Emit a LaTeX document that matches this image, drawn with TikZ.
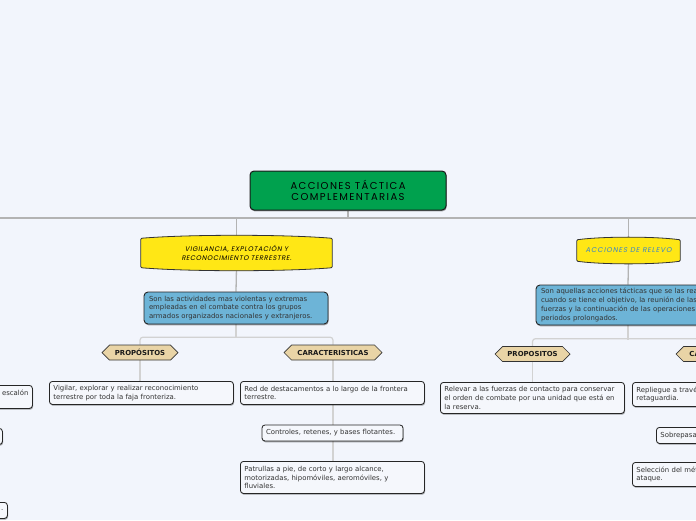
\documentclass[tikz,border=0pt]{standalone}
\usepackage{fontspec}
\setmainfont{DejaVu Sans}
\newfontfamily\gothic{Poppins}[LetterSpace=14]
\newfontfamily\gothicit{Poppins}[FakeSlant=0.2,LetterSpace=9]
\newfontfamily\gothicitw{Poppins}[FakeSlant=0.2,LetterSpace=13]
\usetikzlibrary{shapes.symbols,shadows,calc}
\pgfdeclarelayer{background}
\pgfsetlayers{background,main}
\definecolor{bgc}{HTML}{F2F5FC}
\definecolor{greenc}{HTML}{00A14E}
\definecolor{yelc}{HTML}{FFE715}
\definecolor{bluec}{HTML}{6DB4D7}
\definecolor{tanc}{HTML}{E9D4A6}
\definecolor{leafc}{HTML}{F5F7FC}
\definecolor{textc}{HTML}{333333}
\definecolor{linec}{HTML}{B3B3B3}
\definecolor{subc}{HTML}{D2D2D2}
\definecolor{relc}{HTML}{3A86C8}
\newcommand\ybpath[2]{(#1.south west) -- (#1.north west)
  .. controls ($(#1.north west)!0.25!(#1.north east)+(0,-#2)$) and ($(#1.north west)!0.75!(#1.north east)+(0,-#2)$) .. (#1.north east)
  -- (#1.south east)
  .. controls ($(#1.south west)!0.75!(#1.south east)+(0,#2)$) and ($(#1.south west)!0.25!(#1.south east)+(0,#2)$) .. (#1.south west) -- cycle}
\newcommand\ybulge[2]{%
  \fill[black!60,opacity=.45,xshift=0.6pt,yshift=-1.3pt] \ybpath{#1}{#2};
  \draw[fill=yelc,draw=black!80,line width=0.8pt,rounded corners=1pt] \ybpath{#1}{#2};}
\begin{document}
\begin{tikzpicture}[x=1pt,y=-1pt,
  mainline/.style={draw=linec,line width=1.3pt},
  subline/.style={draw=subc,line width=1.2pt},
  shad/.style={drop shadow={shadow xshift=0.6pt,shadow yshift=-1.3pt,fill=black,opacity=0.35}},
  rootbox/.style={draw=black!90,fill=greenc,rounded corners=4pt,line width=1pt,
    font=\gothic\fontsize{10}{11.7}\selectfont,align=center,shad},
  yeltext/.style={font=\gothicit\fontsize{6.7}{8.5}\selectfont,align=center,inner sep=0pt},
  bluebox/.style={draw=black!85,fill=bluec,rounded corners=4pt,line width=0.9pt,text=textc,
    font=\fontsize{6.9}{8.7}\selectfont,align=left,inner xsep=5pt,inner ysep=0pt,shad},
  hex/.style={shape=signal,signal to=west and east,signal pointer angle=90,draw=black!80,
    fill=tanc,line width=0.7pt,font=\bfseries\fontsize{6.9}{8}\selectfont,text=black!90,
    minimum height=15pt,inner ysep=1pt,inner xsep=1pt},
  leaf/.style={draw=black!85,fill=leafc,rounded corners=3pt,line width=0.85pt,text=textc,
    font=\fontsize{6.9}{8.7}\selectfont,align=left,inner xsep=4pt,inner ysep=0pt,
    anchor=north west,text width=176pt,shad},
  shortleaf/.style={leaf,text width=133pt}]
\useasboundingbox (0,0) rectangle (696,520);

% root and first level
\node[rootbox,minimum width=196pt,minimum height=39pt] (root) at (348,190.5) {ACCIONES TÁCTICA\\COMPLEMENTARIAS};
\node[yeltext,minimum width=191pt,minimum height=29pt] (vigh) at (236.5,253) {VIGILANCIA, EXPLOTACIÓN Y\\RECONOCIMIENTO TERRESTRE.};
\node[yeltext,font=\gothicitw\fontsize{7}{8.5}\selectfont,text=relc,minimum width=103pt,minimum height=21pt] (rel) at (628.5,250.5) {ACCIONES DE RELEVO};
\coordinate (hubL) at (-60,218);
\coordinate (hubR) at (760,218);

% left branch
\node[bluebox,text width=174pt,minimum height=32pt] (blue1) at (236,308)
  {Son las actividades mas violentas y extremas\\empleadas en el combate contra los grupos\\armados organizados nacionales y extranjeros.};
\node[hex,minimum width=76pt] (prop1) at (140,352.5) {PROPÓSITOS};
\node[hex,minimum width=98pt] (car1) at (333,352.5) {CARACTERISTICAS};
\node[leaf,minimum height=23pt] (vig1) at (49,381) {Vigilar, explorar y realizar reconocimiento\\terrestre por toda la faja fronteriza.};
\node[leaf,minimum height=23pt] (red) at (240,381) {Red de destacamentos a lo largo de la frontera\\terrestre.};
\node[shortleaf,anchor=center,minimum height=16pt] (ctrl) at (332.5,433) {Controles, retenes, y bases flotantes.};
\node[leaf,minimum height=32pt] (pat) at (240,461) {Patrullas a pie, de corto y largo alcance,\\motorizadas, hipomóviles, aeromóviles, y\\fluviales.};

% far-left cut boxes
\node[leaf,align=right,minimum height=23pt] (l1) at (-152,385) {escalón\\\mbox{}};
\node[shortleaf,minimum height=16pt] (l2) at (-139,428) {\mbox{}};
\node[leaf,align=right,minimum height=16pt] (l3) at (-177,502) {.};

% right branch
\node[bluebox,text width=174pt,minimum height=40pt] (blue2) at (628,305)
  {\mbox{Son aquellas acciones tácticas que se las realizan}\\\mbox{cuando se tiene el objetivo, la reunión de las}\\\mbox{fuerzas y la continuación de las operaciones}\\periodos prolongados.};
\node[hex,minimum width=75pt] (prop2) at (532.5,354) {PROPOSITOS};
\node[hex,minimum width=98pt] (car2) at (725,354) {CARACTERISTICAS};
\node[leaf,minimum height=31pt] (relv) at (440,382) {Relevar a las fuerzas de contacto para conservar\\el orden de combate por una unidad que está en\\la reserva.};
\node[leaf,minimum height=24pt] (rep) at (632,382) {Repliegue a través de la\\retaguardia.};
\node[shortleaf,minimum height=16pt] (sob) at (656,427) {Sobrepasamiento.};
\node[leaf,minimum height=24pt] (sel) at (632,462) {Selección del método de\\ataque.};

\begin{pgfonlayer}{background}
  \fill[bgc] (0,0) rectangle (696,520);
  \draw[mainline] (hubL) -- (hubR);
  \draw[mainline] (root.south) -- (root.south |- hubL);
  \draw[mainline] (vigh.north) -- (vigh.north |- hubL);
  \draw[mainline] (rel.north) -- (rel.north |- hubL);
  \draw[mainline] (vigh.south) -- (blue1.north);
  \draw[mainline] (rel.south) -- (blue2.north);
  % left sub-branches
  \draw[subline] (blue1.south) -- ++(0,14);
  \draw[subline,rounded corners=3pt] (prop1.north) -- ++(0,-7.5) -| (car1.north);
  \draw[subline] (prop1.south) -- (prop1.south |- vig1.north);
  \draw[subline] (car1.south) -- (car1.south |- pat.north);
  % right sub-branches
  \draw[subline] (blue2.south) -- ++(0,15);
  \draw[subline,rounded corners=3pt] (prop2.north) -- ++(0,-7.5) -| (car2.north);
  \draw[subline] (prop2.south) -- (prop2.south |- relv.north);
  \draw[subline] (car2.south) -- (car2.south |- sel.north);
  % yellow bulged shapes
  \ybulge{vigh}{4}
  \ybulge{rel}{3.5}
\end{pgfonlayer}
\end{tikzpicture}
\end{document}
